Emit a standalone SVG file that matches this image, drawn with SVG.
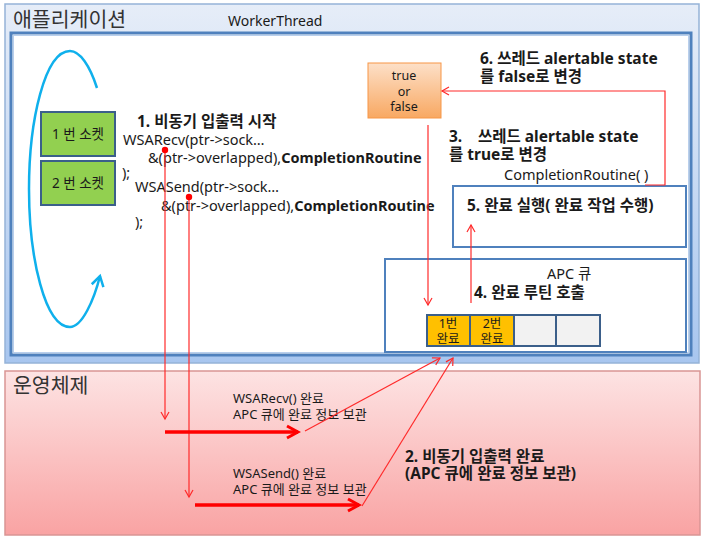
<svg xmlns="http://www.w3.org/2000/svg" width="703" height="539" viewBox="0 0 703 539">
<defs>
  <style>
    text { font-family: "Noto Sans", "Noto Sans CJK KR", sans-serif; fill: #1a1a1a; }
    .title { font-size: 20.5px; fill: #333; }
    .code { font-size: 14.5px; }
    .b { font-weight: bold; }
    .step { font-size: 15.5px; font-weight: bold; }
    .small { font-size: 12.5px; }
    .os { font-size: 13px; }
    .thin { fill: none; stroke: #ff2a2a; stroke-width: 1.2; }
    .thick { fill: none; stroke: #ff0000; stroke-width: 3.5; }
    .panel { fill: #ffffff; stroke: #4f81bd; stroke-width: 2; }
    .sock { fill: #92d050; stroke: #3b5f8a; stroke-width: 2; }
    .cell { stroke: #3b5f8a; stroke-width: 2; }
  </style>
  <linearGradient id="appGrad" x1="0" y1="0" x2="0" y2="1">
    <stop offset="0" stop-color="#e6edf8"/>
    <stop offset="1" stop-color="#a8c6ef"/>
  </linearGradient>
  <linearGradient id="osGrad" x1="0" y1="0" x2="0" y2="1">
    <stop offset="0" stop-color="#fde3e3"/>
    <stop offset="1" stop-color="#f9a3a3"/>
  </linearGradient>
  <linearGradient id="tfGrad" x1="0" y1="0" x2="0" y2="1">
    <stop offset="0" stop-color="#fde0c8"/>
    <stop offset="1" stop-color="#f8a862"/>
  </linearGradient>
  <marker id="thinArrow" markerWidth="10" markerHeight="10" refX="8" refY="5" orient="auto" markerUnits="userSpaceOnUse">
    <path d="M1,1 L8,5 L1,9" fill="none" stroke="#ff2a2a" stroke-width="1.2"/>
  </marker>
  <marker id="thickArrow" markerWidth="16" markerHeight="16" refX="13" refY="8" orient="auto" markerUnits="userSpaceOnUse">
    <path d="M2,2 L13,8 L2,14" fill="none" stroke="#ff0000" stroke-width="3"/>
  </marker>
  <marker id="blueArrow" markerWidth="16" markerHeight="16" refX="12" refY="8" orient="auto" markerUnits="userSpaceOnUse">
    <path d="M2,2 L12,8 L2,14" fill="none" stroke="#0fb0ec" stroke-width="2.5"/>
  </marker>
  <marker id="dot" markerWidth="8" markerHeight="8" refX="4" refY="4" markerUnits="userSpaceOnUse">
    <circle cx="4" cy="4" r="3.2" fill="#ff0000"/>
  </marker>
</defs>

<g id="application">
  <rect x="5" y="4" width="694" height="359" fill="url(#appGrad)" stroke="#95b3d7" stroke-width="1.5"/>
  <text class="title" x="13" y="27">애플리케이션</text>
</g>

<g id="workerthread">
  <rect x="11" y="33" width="680" height="322" fill="#ffffff" stroke="#4f81bd" stroke-width="3"/>
  <rect x="13.5" y="35.5" width="675" height="317" fill="none" stroke="#b9cfec" stroke-width="1"/>
  <text x="228" y="26" font-size="14">WorkerThread</text>
</g>

<g id="os">
  <rect x="5" y="371" width="695" height="164" fill="url(#osGrad)" stroke="#d99594" stroke-width="1.5"/>
  <text class="title" x="13" y="393">운영체제</text>
</g>

<g id="socket1">
  <rect class="sock" x="41" y="112" width="74" height="44"/>
  <text x="78" y="139" text-anchor="middle" font-size="13.5">1 번 소켓</text>
</g>
<g id="socket2">
  <rect class="sock" x="41" y="161" width="74" height="44"/>
  <text x="78" y="188" text-anchor="middle" font-size="13.5">2 번 소켓</text>
</g>

<g id="code">
  <text class="step" x="137" y="127">1. 비동기 입출력 시작</text>
  <text class="code" x="123" y="145">WSARecv(ptr->sock…</text>
  <text class="code" x="148" y="163">&amp;(ptr->overlapped),<tspan class="b">CompletionRoutine</tspan></text>
  <text class="code" x="122" y="178">);</text>
  <text class="code" x="135" y="192">WSASend(ptr->sock…</text>
  <text class="code" x="161" y="211">&amp;(ptr->overlapped),<tspan class="b">CompletionRoutine</tspan></text>
  <text class="code" x="135" y="227">);</text>
</g>

<g id="truefalse">
  <rect x="368" y="63" width="73" height="55" fill="url(#tfGrad)" stroke="#f79646" stroke-width="1"/>
  <text class="small" x="404" y="80" text-anchor="middle">true</text>
  <text class="small" x="404" y="96" text-anchor="middle">or</text>
  <text class="small" x="404" y="111" text-anchor="middle">false</text>
</g>

<g id="labels">
  <text class="step" x="480" y="64">6. 쓰레드 alertable state</text>
  <text class="step" x="480" y="82">를 false로 변경</text>
  <text class="step" x="449" y="142">3.<tspan x="478">쓰레드 alertable state</tspan></text>
  <text class="step" x="449" y="160">를 true로 변경</text>
  <text class="code" x="504" y="180">CompletionRoutine( )</text>
</g>

<g id="complete">
  <rect class="panel" x="453" y="186" width="233" height="61"/>
  <text class="step" x="467" y="211">5. 완료 실행( 완료 작업 수행)</text>
</g>

<g id="apcqueue">
  <rect class="panel" x="385" y="259" width="301" height="93"/>
  <text class="code" x="547" y="279">APC 큐</text>
  <text class="step" x="474" y="298">4. 완료 루틴 호출</text>
  <rect class="cell" x="427" y="315" width="43" height="31" fill="#ffc000"/>
  <rect class="cell" x="470" y="315" width="44" height="31" fill="#ffc000"/>
  <rect class="cell" x="514" y="315" width="42" height="31" fill="#f2f2f2"/>
  <rect class="cell" x="556" y="315" width="44" height="31" fill="#f2f2f2"/>
  <text class="small" x="448" y="328" text-anchor="middle">1번</text>
  <text class="small" x="448" y="343" text-anchor="middle">완료</text>
  <text class="small" x="492" y="328" text-anchor="middle">2번</text>
  <text class="small" x="492" y="343" text-anchor="middle">완료</text>
</g>

<g id="oslabels">
  <text class="os" x="233" y="403">WSARecv() 완료</text>
  <text class="os" x="233" y="419">APC 큐에 완료 정보 보관</text>
  <text class="os" x="233" y="478">WSASend() 완료</text>
  <text class="os" x="233" y="494">APC 큐에 완료 정보 보관</text>
  <text class="step" x="405" y="462" font-size="14.8">2. 비동기 입출력 완료</text>
  <text class="step" x="405" y="479" font-size="14.8">(APC 큐에 완료 정보 보관)</text>
</g>

<g id="connectors">
  <path d="M97,88 C90,66 80,51 70,51 C45,51 29,120 29,189 C29,258 45,327 70,327 C82,327 94,300 100,276" fill="none" stroke="#0fb0ec" stroke-width="2.5" marker-end="url(#blueArrow)"/>
  <path class="thin" d="M165,150 L165,419" marker-start="url(#dot)" marker-end="url(#thinArrow)"/>
  <path class="thin" d="M189,197 L189,497" marker-start="url(#dot)" marker-end="url(#thinArrow)"/>
  <path class="thick" d="M165,432 L298,432" marker-end="url(#thickArrow)"/>
  <path class="thick" d="M195,505 L359,505" marker-end="url(#thickArrow)"/>
  <path class="thin" d="M305,431 L440,358" marker-end="url(#thinArrow)"/>
  <path class="thin" d="M362,506 L453,358" marker-end="url(#thinArrow)"/>
  <path class="thin" d="M645,185 L665,185 L665,91 L442,91" marker-end="url(#thinArrow)"/>
  <path class="thin" d="M428,125 L428,305" marker-end="url(#thinArrow)"/>
  <path class="thin" d="M471,303 L471,225" marker-end="url(#thinArrow)"/>
</g>
</svg>
